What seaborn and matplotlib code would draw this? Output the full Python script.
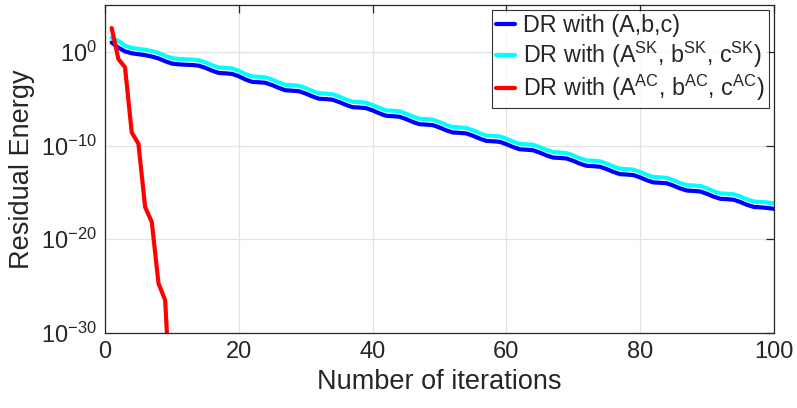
import numpy as np
import pandas as pd
import matplotlib
matplotlib.use("Agg")
import matplotlib.pyplot as plt
import seaborn as sns
from matplotlib.ticker import FixedLocator, LogFormatterSciNotation, NullLocator

# Iteration index shared by all three runs
iterations = list(range(1, 101))

# log10 of the residual energy, Douglas-Rachford on (A, b, c)
dr_plain_log10 = [
    1.0, 0.45, 0.05, -0.15, -0.25, -0.35, -0.5, -0.7, -1.0, -1.25,
    -1.33, -1.37, -1.40, -1.47, -1.7, -2.0, -2.25, -2.29, -2.35, -2.6,
    -2.95, -3.2, -3.24, -3.3, -3.55, -3.85, -4.1, -4.14, -4.2, -4.45,
    -4.75, -5.0, -5.04, -5.1, -5.35, -5.65, -5.9, -5.94, -6.0, -6.25,
    -6.55, -6.82, -6.86, -6.92, -7.17, -7.47, -7.72, -7.76, -7.82, -8.07,
    -8.37, -8.6, -8.64, -8.7, -8.95, -9.25, -9.5, -9.54, -9.6, -9.85,
    -10.15, -10.4, -10.44, -10.5, -10.75, -11.05, -11.28, -11.32, -11.38, -11.63,
    -11.93, -12.16, -12.2, -12.26, -12.51, -12.81, -13.05, -13.09, -13.15, -13.4,
    -13.7, -13.93, -13.97, -14.03, -14.28, -14.58, -14.8, -14.84, -14.9, -15.15,
    -15.45, -15.68, -15.72, -15.78, -16.03, -16.33, -16.55, -16.59, -16.65, -16.75,
]

# log10 of the residual energy, Douglas-Rachford on the SK-scaled data
dr_sk_log10 = [
    1.5, 1.15, 0.65, 0.42, 0.32, 0.22, 0.08, -0.12, -0.42, -0.67,
    -0.75, -0.79, -0.82, -0.89, -1.12, -1.42, -1.67, -1.71, -1.77, -2.02,
    -2.37, -2.62, -2.66, -2.72, -2.97, -3.27, -3.52, -3.56, -3.62, -3.87,
    -4.17, -4.42, -4.46, -4.52, -4.77, -5.07, -5.32, -5.36, -5.42, -5.67,
    -5.97, -6.24, -6.28, -6.34, -6.59, -6.89, -7.14, -7.18, -7.24, -7.49,
    -7.79, -8.02, -8.06, -8.12, -8.37, -8.67, -8.92, -8.96, -9.02, -9.27,
    -9.57, -9.82, -9.86, -9.92, -10.17, -10.47, -10.7, -10.74, -10.8, -11.05,
    -11.35, -11.58, -11.62, -11.68, -11.93, -12.23, -12.47, -12.51, -12.57, -12.82,
    -13.12, -13.35, -13.39, -13.45, -13.7, -14.0, -14.22, -14.26, -14.32, -14.57,
    -14.87, -15.1, -15.14, -15.2, -15.45, -15.75, -15.97, -16.01, -16.07, -16.17,
]

# log10 of the residual energy, Douglas-Rachford on the AC-scaled data (first 10 iterations)
ac_iterations = list(range(1, 11))
dr_ac_log10 = [2.55, -0.75, -1.65, -8.6, -9.8, -16.55, -18.15, -24.7, -26.5, -40.0]

series_labels = [
    "DR with (A,b,c)",
    r"DR with (A$\mathregular{^{SK}}$, b$\mathregular{^{SK}}$, c$\mathregular{^{SK}}$)",
    r"DR with (A$\mathregular{^{AC}}$, b$\mathregular{^{AC}}$, c$\mathregular{^{AC}}$)",
]
series_colors = ["#0000ff", "#00ffff", "#ff0000"]

frames = [
    pd.DataFrame({"iteration": iterations, "energy": 10.0 ** np.array(dr_plain_log10), "run": series_labels[0]}),
    pd.DataFrame({"iteration": iterations, "energy": 10.0 ** np.array(dr_sk_log10), "run": series_labels[1]}),
    pd.DataFrame({"iteration": ac_iterations, "energy": 10.0 ** np.array(dr_ac_log10), "run": series_labels[2]}),
]
data = pd.concat(frames, ignore_index=True)

sns.set_theme(style="white")
plt.rcParams["font.family"] = ["Liberation Sans", "DejaVu Sans"]
plt.rcParams["mathtext.fontset"] = "custom"
plt.rcParams["mathtext.rm"] = "Liberation Sans"

ink = "#262626"

fig = plt.figure(figsize=(7.97, 4.08), dpi=100)
ax = fig.add_axes([0.1317, 0.1838, 0.8394, 0.8039])
ax.set_yscale("log")

sns.lineplot(
    data=data, x="iteration", y="energy", hue="run",
    hue_order=series_labels, palette=series_colors,
    linewidth=3.0, ax=ax, legend=True, estimator=None, sort=False,
)

ax.set_xlim(0, 100)
ax.set_ylim(1e-30, 1e5)
ax.set_xticks([0, 20, 40, 60, 80, 100])
ax.yaxis.set_major_locator(FixedLocator([1e-30, 1e-20, 1e-10, 1e0]))
ax.yaxis.set_major_formatter(LogFormatterSciNotation())
ax.yaxis.set_minor_locator(NullLocator())

ax.grid(True, color="#e3e3e3", linewidth=0.9)
ax.set_axisbelow(True)
for side in ["left", "right", "top", "bottom"]:
    ax.spines[side].set_visible(True)
    ax.spines[side].set_color(ink)
    ax.spines[side].set_linewidth(0.9)

ax.tick_params(axis="both", which="major", direction="in", length=6, width=0.9,
               colors=ink, labelsize=17, top=True, right=True, pad=6)

ax.set_xlabel("Number of iterations", fontsize=19.5, color=ink, labelpad=4)
ax.set_ylabel("Residual Energy", fontsize=19.5, color=ink, labelpad=4)

leg = ax.legend(
    loc="upper right", fontsize=16.8, frameon=True, fancybox=False,
    edgecolor="#000000", handlelength=0.8, handletextpad=0.35,
    labelspacing=0.12, borderpad=0.2, borderaxespad=0.2,
)
leg.get_frame().set_linewidth(0.8)
for line in leg.get_lines():
    line.set_linewidth(3.0)

fig.savefig("out.png", dpi=100)
